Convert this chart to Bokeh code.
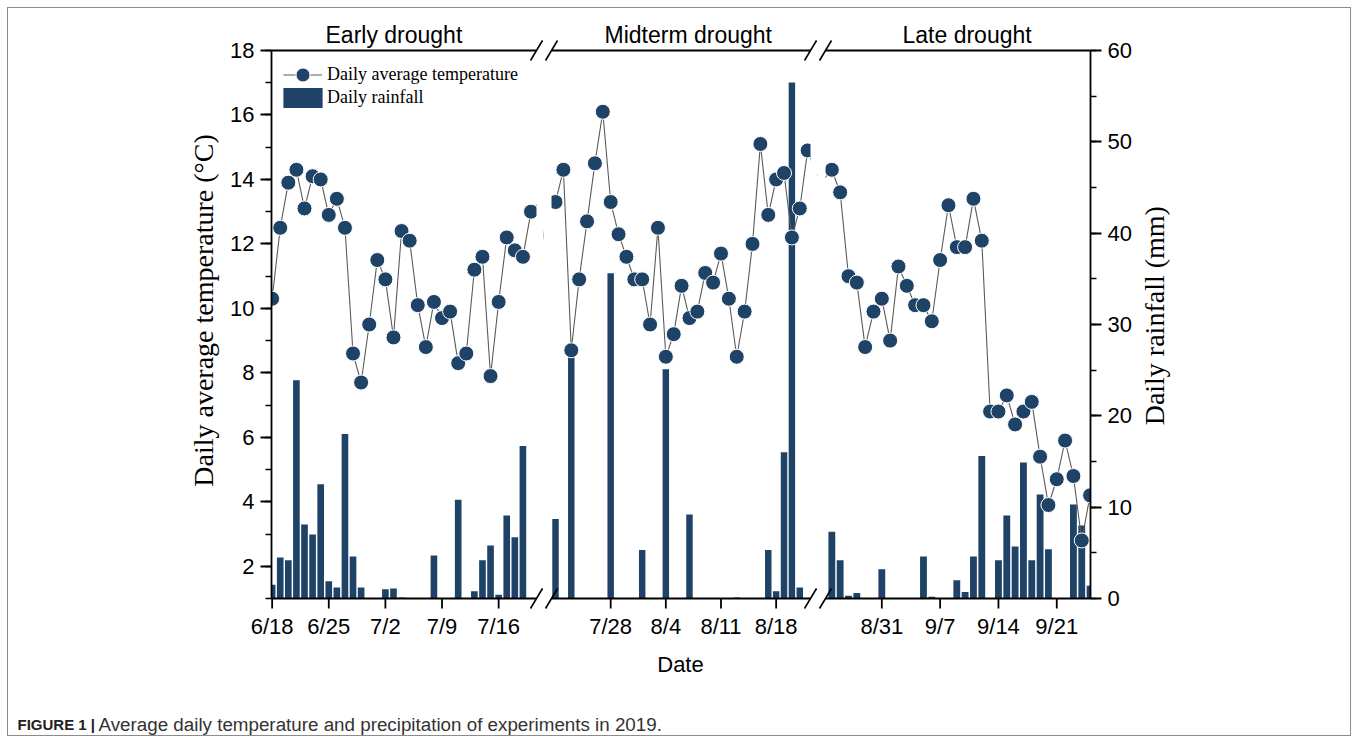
import math
import datetime as dt
from bokeh.plotting import figure
from bokeh.core.properties import value
from bokeh.models import (Range1d, LinearAxis, FixedTicker, SingleIntervalTicker,
                          Legend, LegendItem, Label, BoxAnnotation)
from bokeh.layouts import row, column
from bokeh.embed import file_html
from bokeh.resources import INLINE

# ---------------- data ----------------
START = dt.date(2019, 6, 18)          # day 0
days = list(range(100))               # 6/18 .. 9/25

temperature = [
    10.3, 12.5, 13.9, 14.3, 13.1, 14.1, 14.0, 12.9, 13.4, 12.5,   # 6/18-6/27
    8.6, 7.7, 9.5, 11.5, 10.9, 9.1, 12.4, 12.1, 10.1, 8.8,        # 6/28-7/7
    10.2, 9.7, 9.9, 8.3, 8.6, 11.2, 11.6, 7.9, 10.2, 12.2,        # 7/8-7/17
    11.8, 11.6, 13.0, 13.3, 14.3, 8.7, 10.9, 12.7, 14.5, 16.1,    # 7/18-7/27
    13.3, 12.3, 11.6, 10.9, 10.9, 9.5, 12.5, 8.5, 9.2, 10.7,      # 7/28-8/6
    9.7, 9.9, 11.1, 10.8, 11.7, 10.3, 8.5, 9.9, 12.0, 15.1,       # 8/7-8/16
    12.9, 14.0, 14.2, 12.2, 13.1, 14.9, 14.2, 14.0, 14.3, 13.6,   # 8/17-8/26
    11.0, 10.8, 8.8, 9.9, 10.3, 9.0, 11.3, 10.7, 10.1, 10.1,      # 8/27-9/5
    9.6, 11.5, 13.2, 11.9, 11.9, 13.4, 12.1, 6.8, 6.8, 7.3,       # 9/6-9/15
    6.4, 6.8, 7.1, 5.4, 3.9, 4.7, 5.9, 4.8, 2.8, 4.2,             # 9/16-9/25
]

rainfall = [
    1.5, 4.5, 4.2, 23.9, 8.1, 7.0, 12.5, 1.9, 1.2, 18.0,
    4.6, 1.2, 0.0, 0.0, 1.0, 1.1, 0.1, 0.0, 0.0, 0.0,
    4.7, 0.0, 0.0, 10.8, 0.0, 0.8, 4.2, 5.8, 0.4, 9.1,
    6.7, 16.7, 0.0, 8.7, 0.0, 27.8, 0.0, 0.0, 0.0, 0.0,
    35.6, 0.0, 0.0, 0.0, 5.3, 0.0, 0.0, 25.1, 0.0, 0.0,
    9.2, 0.0, 0.0, 0.0, 0.0, 0.0, 0.1, 0.0, 0.0, 0.0,
    5.3, 0.8, 16.0, 56.5, 1.2, 0.0, 0.0, 0.0, 7.3, 4.2,
    0.3, 0.6, 0.0, 0.0, 3.2, 0.0, 0.0, 0.0, 0.0, 4.6,
    0.2, 0.0, 0.0, 2.0, 0.7, 4.6, 15.6, 0.0, 4.2, 9.1,
    5.7, 14.9, 4.2, 11.4, 5.4, 0.0, 0.0, 10.3, 8.0, 1.4,
]

segment_titles = ["Early drought", "Midterm drought", "Late drought"]
segment_ticks = [[0, 7, 14, 21, 28], [40, 47, 54, 61], [74, 81, 88, 95]]
segment_ranges = [(-0.08, 32.68), (32.49, 65.36), (67.24, 99.05)]   # visible day span of each panel
left_title = "Daily average temperature (\u00b0C)"
right_title = "Daily rainfall (mm)"


def date_label(d):
    t = START + dt.timedelta(days=d)
    return f"{t.month}/{t.day}"


# ---------------- style / geometry ----------------
NAVY = "#1f4267"
LINE = "#5a5a5a"
SANS = "Liberation Sans"
SERIF = "Liberation Serif"
H = 690
PLOT_PX = 548            # pixel height of the 1..18 / 0..60 span
E_BOT, E_TOP = 12, 40    # extra frame room below / above the axis lines (for break marks, titles)
MB_TOP = 10
MB_BOTTOM = H - MB_TOP - PLOT_PX - E_BOT - E_TOP
T_PPU = PLOT_PX / 17.0
R_PPU = PLOT_PX / 60.0
RIGHT_W = 218            # strip holding the rainfall axis title

specs = [
    dict(width=543, left=271, right=0, pad_l=0, pad_r=7, title_off=54),
    dict(width=274, left=0, right=0, pad_l=8, pad_r=7, title_off=53),
    dict(width=1358 - 543 - 274 - RIGHT_W, left=0, right=50, pad_l=8, pad_r=0, title_off=77),
]


def style_axis(ax):
    ax.axis_line_color = "black"
    ax.axis_line_width = 1.8
    ax.major_tick_line_color = "black"
    ax.major_tick_line_width = 1.8
    ax.minor_tick_line_color = "black"
    ax.minor_tick_line_width = 1.5
    ax.major_tick_in = 0
    ax.major_tick_out = 11
    ax.minor_tick_in = 0
    ax.minor_tick_out = 6
    ax.major_label_text_font = SANS
    ax.major_label_text_font_size = "22px"
    ax.major_label_text_color = "black"
    ax.major_label_standoff = 6
    ax.axis_label_text_font = SERIF
    ax.axis_label_text_font_size = "28px"
    ax.axis_label_text_font_style = "normal"
    ax.axis_label_text_color = "black"


def blank(p):
    p.outline_line_color = None
    p.background_fill_color = None
    p.border_fill_color = None
    p.xgrid.visible = False
    p.ygrid.visible = False


figs = []
first_renderers = None
for i in range(3):
    s = specs[i]
    d0, d1 = segment_ranges[i]
    frame_w = s["width"] - s["left"] - s["right"]
    ppd = (frame_w - s["pad_l"] - s["pad_r"]) / (d1 - d0)
    fx0 = d0 - s["pad_l"] / ppd
    fx1 = d1 + s["pad_r"] / ppd

    p = figure(width=s["width"], height=H, x_range=Range1d(fx0, fx1),
               y_range=Range1d(1 - E_BOT / T_PPU, 18 + E_TOP / T_PPU),
               output_backend="svg", toolbar_location=None, tools="", title=None,
               min_border_left=s["left"], min_border_right=s["right"],
               min_border_top=MB_TOP, min_border_bottom=MB_BOTTOM,
               y_axis_location=("left" if i == 0 else None))
    p.extra_y_ranges = {"rain": Range1d(0 - E_BOT / R_PPU, 60 + E_TOP / R_PPU)}
    p.outline_line_color = None
    p.xgrid.visible = False
    p.ygrid.visible = False
    p.background_fill_color = "white"
    p.border_fill_color = None

    sel = [k for k, d in enumerate(days) if d0 <= d <= d1]
    sd = [days[k] for k in sel]
    st = [temperature[k] for k in sel]
    sr = [rainfall[k] for k in sel]

    bars = p.vbar(x=sd, top=sr, width=0.82, bottom=0, y_range_name="rain",
                  fill_color=NAVY, line_color=None)
    ln = p.line(days, temperature, line_color=LINE, line_width=1.1)
    sc = p.scatter(sd, st, marker="circle", size=15, fill_color=NAVY,
                   line_color="white", line_width=1)
    if i == 0:
        first_renderers = (ln, sc, bars)

    # blank out the half-gaps at the axis breaks
    if s["pad_l"]:
        p.add_layout(BoxAnnotation(right=d0, fill_color="white", fill_alpha=1.0, line_color=None))
    if s["pad_r"]:
        p.add_layout(BoxAnnotation(left=d1, fill_color="white", fill_alpha=1.0, line_color=None))

    # bottom axis: only the date labels come from Bokeh's axis
    ticks = segment_ticks[i]
    xa = p.xaxis[0]
    style_axis(xa)
    xa.ticker = FixedTicker(ticks=ticks)
    xa.major_label_overrides = {t: date_label(t) for t in ticks}
    xa.axis_line_color = None
    xa.major_tick_line_color = None
    xa.minor_tick_line_color = None
    xa.major_tick_out = 0
    xa.minor_tick_out = 0
    xa.major_label_standoff = 3
    if i == 1:
        xa.axis_label = "Date"
        xa.axis_label_text_font = SANS
        xa.axis_label_text_font_size = "22px"
        xa.axis_label_standoff = 10

    # broken bottom / top axis lines, date ticks and "//" marks
    p.segment(x0=[d0, d0], y0=[1, 18], x1=[d1, d1], y1=[1, 18],
              line_color="black", line_width=1.8, level="overlay")
    tick_len = 10 / T_PPU
    p.segment(x0=ticks, y0=[1] * len(ticks), x1=ticks, y1=[1 - tick_len] * len(ticks),
              line_color="black", line_width=1.8, level="overlay")
    dx = 6 / ppd
    dy = 10 / T_PPU
    edges = ([d1] if i < 2 else []) + ([d0] if i > 0 else [])
    sx0, sy0, sx1, sy1 = [], [], [], []
    for xe in edges:
        for yb in (1, 18):
            sx0.append(xe - dx); sy0.append(yb - dy)
            sx1.append(xe + dx); sy1.append(yb + dy)
    p.segment(x0=sx0, y0=sy0, x1=sx1, y1=sy1, line_color="black", line_width=1.6, level="overlay")

    # panel title
    p.text(x=[d0 + s["title_off"] / ppd], y=[18 + 16 / T_PPU], text=[segment_titles[i]],
           text_font=value(SANS), text_font_size=value("23px"), text_color="black",
           text_align="left", text_baseline="alphabetic")

    if i == 0:
        ya = p.yaxis[0]
        style_axis(ya)
        ya.bounds = (1, 18)
        ya.ticker = SingleIntervalTicker(interval=2, num_minor_ticks=2)
        ya.axis_label = left_title
        ya.axis_label_standoff = 8
    if i == 2:
        ra = LinearAxis(y_range_name="rain", ticker=SingleIntervalTicker(interval=10, num_minor_ticks=2),
                        bounds=(0, 60))
        style_axis(ra)
        p.add_layout(ra, "right")
    figs.append(p)

# strip to the right holding the rainfall axis title (reads bottom-to-top)
rt = figure(width=RIGHT_W, height=H, x_range=Range1d(0, RIGHT_W), y_range=Range1d(0, H),
            output_backend="svg", toolbar_location=None, tools="", min_border=0,
            x_axis_location=None, y_axis_location=None)
blank(rt)
rt.text(x=[14], y=[H - 351], text=[right_title], angle=math.pi / 2,
        text_align="center", text_baseline="middle", text_font=value(SERIF),
        text_font_size=value("28px"), text_color="black")

# legends in the first panel
ln, sc, bars = first_renderers
p1 = figs[0]
legA = Legend(items=[LegendItem(label="Daily average temperature", renderers=[ln, sc])],
              location=(12, 518), glyph_width=39, glyph_height=35, label_standoff=5,
              padding=0, margin=0, spacing=0, border_line_color=None, background_fill_alpha=0,
              label_text_font=SERIF, label_text_font_size="18px", label_text_color="black")
legB = Legend(items=[LegendItem(label="Daily rainfall", renderers=[bars])],
              location=(7, 500), glyph_width=49, glyph_height=25, label_standoff=0,
              padding=0, margin=0, spacing=0, border_line_color=None, background_fill_alpha=0,
              label_text_font=SERIF, label_text_font_size="18px", label_text_color="black")
p1.add_layout(legA)
p1.add_layout(legB)

# caption
CAP_H = 743 - H
cap = figure(width=1358, height=CAP_H, x_range=Range1d(0, 1358), y_range=Range1d(0, CAP_H),
             output_backend="svg", toolbar_location=None, tools="", min_border=0,
             x_axis_location=None, y_axis_location=None)
blank(cap)
cap.add_layout(Label(x=17, y=CAP_H - 34, text="FIGURE 1 |", text_font=SANS, text_font_size="15px",
                     text_font_style="bold", text_color="#222222", text_baseline="middle"))
cap.add_layout(Label(x=98, y=CAP_H - 34,
                     text="Average daily temperature and precipitation of experiments in 2019.",
                     text_font=SANS, text_font_size="18.8px", text_color="#333333",
                     text_baseline="middle"))

layout = column(row(*figs, rt), cap,
                styles={"outline": "1px solid #8c8c8c", "outline-offset": "-8px"})

open("out.html", "w").write(file_html(layout, INLINE))
